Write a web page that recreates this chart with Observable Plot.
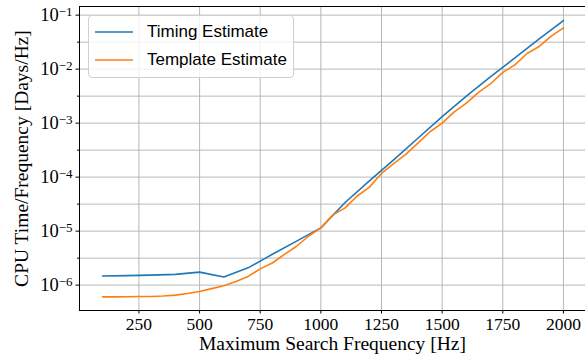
<!DOCTYPE html>
<html>
<head>
<meta charset="utf-8">
<script src="https://cdn.jsdelivr.net/npm/d3@7"></script>
<script src="https://cdn.jsdelivr.net/npm/@observablehq/plot@0.6"></script>
<style>
  html, body { margin: 0; padding: 0; background: #fff; overflow: hidden; }
  #wrap { position: relative; width: 585px; height: 354px; }
  #legend {
    position: absolute; left: 88px; top: 15px; width: 204px; height: 61px;
    border: 1px solid #d0d0d0; border-radius: 4px; background: rgba(255,255,255,0.8);
    font-family: "Liberation Sans", "DejaVu Sans", sans-serif; font-size: 17px; color: #000;
  }
  .entry { position: absolute; left: 0; height: 24px; display: flex; align-items: center; }
  .entry svg { margin-left: 6px; margin-right: 14px; }
</style>
</head>
<body>
<div id="wrap"></div>
<script>
// ---- data ----
const timingFreq = [100,200,300,400,500,600,700,800,900,1000,1100,1200,1300,1400,1500,1600,1700,1800,1900,2000];
const timingCost = [1.48e-6,1.50e-6,1.53e-6,1.58e-6,1.74e-6,1.41e-6,2.09e-6,3.72e-6,6.53e-6,1.15e-5,
                    3.39e-5,8.51e-5,2.09e-4,5.25e-4,1.32e-3,3.16e-3,7.24e-3,1.62e-2,3.63e-2,7.94e-2];
const templateFreq = [100,150,200,250,300,350,400,450,500,550,600,650,700,750,800,850,900,950,1000,
                      1050,1100,1150,1200,1250,1300,1350,1400,1450,1500,1550,1600,1650,1700,1750,1800,1850,1900,1950,2000];
const templateCost = [6.07e-7,6.07e-7,6.10e-7,6.14e-7,6.17e-7,6.31e-7,6.53e-7,7.00e-7,7.64e-7,8.61e-7,9.70e-7,
                      1.17e-6,1.45e-6,2.00e-6,2.57e-6,3.72e-6,5.25e-6,8.13e-6,1.15e-5,2.00e-5,2.69e-5,4.47e-5,
                      6.53e-5,1.17e-4,1.78e-4,2.63e-4,4.27e-4,6.92e-4,1.00e-3,1.62e-3,2.34e-3,3.72e-3,5.37e-3,
                      8.71e-3,1.20e-2,1.95e-2,2.63e-2,4.07e-2,5.82e-2];
const seriesNames = ["Timing Estimate", "Template Estimate"];
const seriesColors = ["#1f77b4", "#ff7f0e"];
const xTicks = [250,500,750,1000,1250,1500,1750,2000];
const yMajorTicks = [1e-6,1e-5,1e-4,1e-3,1e-2,1e-1];
const yMinorTicks = [3.162e-6,3.162e-5,3.162e-4,3.162e-3,3.162e-2];
const xLabel = "Maximum Search Frequency [Hz]";
const yLabel = "CPU Time/Frequency [Days/Hz]";

const timing = timingFreq.map((f, i) => ({f, v: timingCost[i], s: seriesNames[0]}));
const template = templateFreq.map((f, i) => ({f, v: templateCost[i], s: seriesNames[1]}));

const serif = "'Liberation Serif', 'DejaVu Serif', serif";

const chart = Plot.plot({
  width: 585,
  height: 354,
  marginLeft: 79,
  marginRight: 0,
  marginTop: 6,
  marginBottom: 44,
  style: {fontFamily: serif, background: "#fff", overflow: "visible"},
  x: {domain: [5, 2091]},
  y: {type: "log", domain: [3.39e-7, 0.1445]},
  marks: [
    Plot.gridX(xTicks, {stroke: "#b0b0b0", strokeOpacity: 1, strokeWidth: 0.9}),
    Plot.gridY([...yMajorTicks, ...yMinorTicks], {stroke: "#b0b0b0", strokeOpacity: 1, strokeWidth: 0.9}),
    Plot.line(timing, {x: "f", y: "v", stroke: seriesColors[0], strokeWidth: 1.6}),
    Plot.line(template, {x: "f", y: "v", stroke: seriesColors[1], strokeWidth: 1.6}),
    Plot.frame({anchor: "left", stroke: "#000", strokeWidth: 1}),
    Plot.frame({anchor: "bottom", stroke: "#000", strokeWidth: 1}),
    Plot.frame({anchor: "top", stroke: "#000", strokeWidth: 1}),
    Plot.axisX(xTicks, {tickSize: 3.5, tickPadding: 4, fontSize: 17.5, label: null, tickFormat: d => String(d), fill: "#000"}),
    Plot.axisY(yMajorTicks, {tickSize: 3.5, tickPadding: 3.5, fontSize: 18.5, label: null,
      tickFormat: d => "10|\u2212" + Math.round(-Math.log10(d)), fill: "#000"}),
    Plot.axisY(yMinorTicks, {tickSize: 2, tickFormat: () => "", label: null}),
    Plot.text([xLabel], {frameAnchor: "bottom", dy: 39, fontSize: 19.5, fill: "#000"}),
    Plot.text([yLabel], {frameAnchor: "left", textAnchor: "middle", dx: -58, rotate: -90, fontSize: 19.5, fill: "#000"})
  ]
});

// superscript exponents on the y tick labels
chart.querySelectorAll("text").forEach(t => {
  const s = t.textContent;
  if (s.includes("|")) {
    const [base, exp] = s.split("|");
    t.textContent = "";
    t.appendChild(document.createTextNode(base));
    const sup = document.createElementNS("http://www.w3.org/2000/svg", "tspan");
    sup.setAttribute("dy", "-0.42em");
    sup.setAttribute("font-size", "13");
    sup.textContent = exp;
    t.appendChild(sup);
  }
});

const wrap = document.getElementById("wrap");
wrap.appendChild(chart);

// legend
const legend = document.createElement("div");
legend.id = "legend";
seriesNames.forEach((name, i) => {
  const e = document.createElement("div");
  e.className = "entry";
  e.style.top = (4 + i * 28) + "px";
  e.innerHTML = `<svg width="38" height="4"><line x1="0" y1="2" x2="38" y2="2" stroke="${seriesColors[i]}" stroke-width="1.6"/></svg><span>${name}</span>`;
  legend.appendChild(e);
});
wrap.appendChild(legend);
</script>
</body>
</html>
